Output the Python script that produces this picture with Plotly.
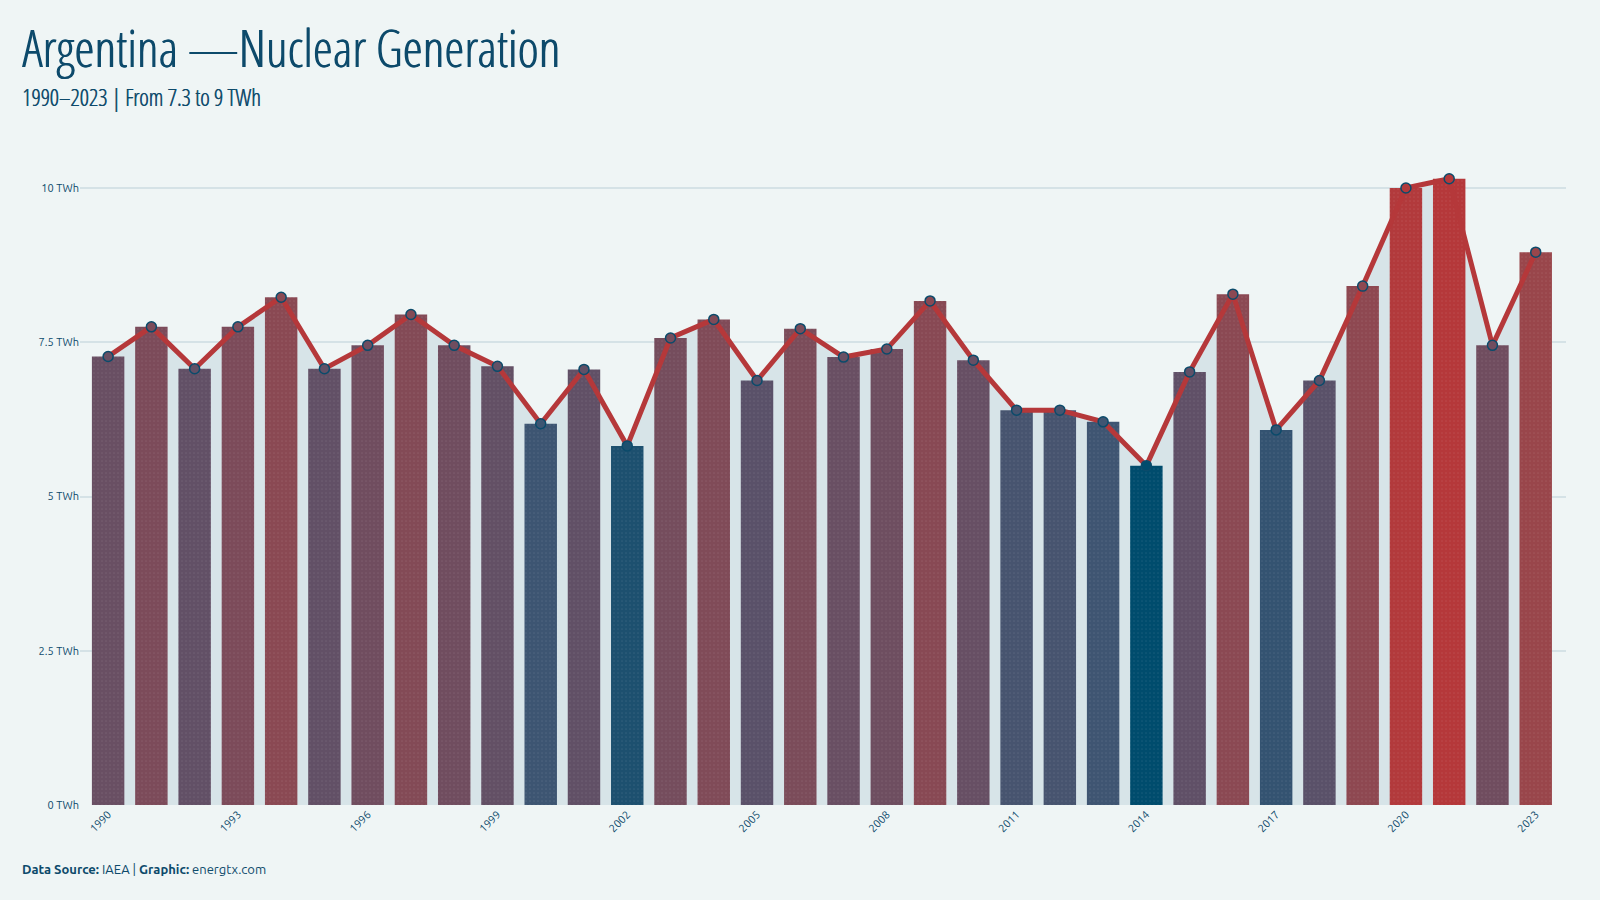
import plotly.graph_objects as go

years = list(range(1990, 2024))
values = [7.27, 7.75, 7.07, 7.75, 8.23, 7.07, 7.45, 7.95, 7.45, 7.11,
          6.18, 7.06, 5.82, 7.57, 7.87, 6.88, 7.72, 7.26, 7.39, 8.17,
          7.21, 6.40, 6.40, 6.21, 5.50, 7.02, 8.28, 6.08, 6.88, 8.41,
          10.00, 10.15, 7.45, 8.96]
tick_years = list(range(1990, 2024, 3))
y_ticks = [0, 2.5, 5, 7.5, 10]
y_tick_text = ["0 TWh", "2.5 TWh", "5 TWh", "7.5 TWh", "10 TWh"]

colorscale = [
    [0.0, "#004c6d"],
    [0.15, "#3f5572"],
    [0.34, "#625066"],
    [0.53, "#844a56"],
    [0.75, "#9a464b"],
    [1.0, "#b5383a"],
]

BG = "#eff5f5"
TXT = "#0d4a6b"
W, H = 1600, 900
L, R, T, B = 80, 34, 151, 95
PW, PH = W - L - R, H - T - B


def px(x):
    return (x - L) / PW


def py(y):
    return (H - B - y) / PH


COND = "Open Sans Condensed Light, Roboto, sans-serif"

fig = go.Figure()

# area under the line (base subplot)
fig.add_trace(go.Scatter(
    x=years, y=values, mode="lines", fill="tozeroy",
    line=dict(width=0, color="#d7e4e8"), fillcolor="#d7e4e8",
    hoverinfo="skip", showlegend=False, xaxis="x", yaxis="y"))

# bars (overlay subplot)
fig.add_trace(go.Bar(
    x=years, y=values, width=0.75,
    marker=dict(color=values, colorscale=colorscale,
                cmin=min(values), cmax=max(values),
                line=dict(width=0),
                pattern=dict(shape=".", fgcolor="#1c3550", fgopacity=0.08,
                             size=4, solidity=0.15)),
    showlegend=False, xaxis="x2", yaxis="y2"))

# line + markers
fig.add_trace(go.Scatter(
    x=years, y=values, mode="lines+markers",
    line=dict(color="#b5383a", width=5),
    marker=dict(size=10, color=values, colorscale=colorscale,
                cmin=min(values), cmax=max(values),
                line=dict(color="#0b4b6b", width=1.5)),
    showlegend=False, xaxis="x2", yaxis="y2"))

xr = [1989.35, 2023.70]
yr = [0, 10.6]
tickfont = dict(family="Ubuntu, Open Sans, sans-serif", size=11, color=TXT)

fig.update_layout(
    width=W, height=H,
    margin=dict(l=L, r=R, t=T, b=B),
    paper_bgcolor=BG, plot_bgcolor=BG,
    bargap=0.25,
    xaxis=dict(range=xr, tickvals=tick_years, tickangle=-45, tickfont=tickfont,
               showgrid=False, zeroline=False, showline=False, ticks=""),
    yaxis=dict(range=yr, tickvals=y_ticks, ticktext=y_tick_text, tickfont=tickfont,
               showgrid=True, gridcolor="#d5e2e6", gridwidth=2,
               zeroline=False, showline=False, ticks="", ticklen=0),
    xaxis2=dict(range=xr, overlaying="x", visible=False, showgrid=False),
    yaxis2=dict(range=yr, overlaying="y", visible=False, showgrid=False),
    annotations=[
        dict(text="Argentina —Nuclear Generation",
             xref="paper", yref="paper",
             x=px(20), y=py(47), xanchor="left", yanchor="middle", showarrow=False,
             font=dict(family=COND, size=51, color=TXT, weight=300,
                       shadow="0.8px 0px 0px #0d4a6b")),
        dict(text="1990–2023 | From 7.3 to 9 TWh",
             xref="paper", yref="paper",
             x=px(20), y=py(97), xanchor="left", yanchor="middle", showarrow=False,
             font=dict(family=COND, size=23, color=TXT, weight=300,
                       shadow="0.5px 0px 0px #0d4a6b")),
        dict(text="<b>Data Source:</b> IAEA | <b>Graphic:</b> energtx.com",
             xref="paper", yref="paper",
             x=px(20), y=py(869), xanchor="left", yanchor="middle", showarrow=False,
             font=dict(family="Ubuntu, Open Sans, sans-serif", size=13, color=TXT)),
    ],
)

fig.write_html("out.html")
